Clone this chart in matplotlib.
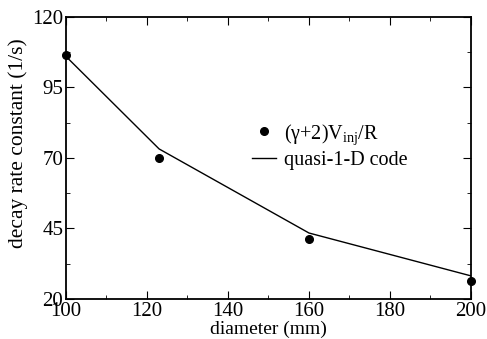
import matplotlib
matplotlib.use("Agg")
import matplotlib.pyplot as plt
from matplotlib.ticker import FixedLocator, MultipleLocator

plt.rcParams['font.family'] = ['Liberation Serif', 'DejaVu Serif']
plt.rcParams['mathtext.fontset'] = 'custom'
plt.rcParams['mathtext.rm'] = 'Liberation Serif'

diam_pts = [100, 123, 160, 200]
rate_pts = [106.5, 70.0, 41.3, 26.4]
diam_line = [100, 123, 160, 200]
rate_line = [106.0, 73.2, 43.4, 28.2]
y_ticks = [20, 45, 70, 95, 120]
y_minor = [32.5, 57.5, 82.5, 107.5]

fig = plt.figure(figsize=(4.87, 3.39), dpi=100)
ax = fig.add_axes([0.1355, 0.118, 0.967 - 0.1355, 0.95 - 0.118])

ax.plot(diam_pts, rate_pts, 'o', color='black', markersize=5.5, clip_on=False,
        label='(γ+2)V$_{\\rm inj}$/R', zorder=3)
ax.plot(diam_line, rate_line, '-', color='black', linewidth=1.0, label='quasi-1-D code')

ax.set_xlim(100, 200)
ax.set_ylim(20, 120)
ax.xaxis.set_major_locator(MultipleLocator(20))
ax.xaxis.set_minor_locator(MultipleLocator(10))
ax.yaxis.set_major_locator(FixedLocator(y_ticks))
ax.yaxis.set_minor_locator(FixedLocator(y_minor))
ax.tick_params(which='both', direction='in', top=True, right=True, labelsize=15, pad=2)
ax.tick_params(which='major', length=6)
ax.tick_params(which='minor', length=3)
for s in ax.spines.values():
    s.set_linewidth(1.3)

ax.set_xlabel('diameter (mm)', fontsize=14, labelpad=0)
ax.set_ylabel('decay rate constant (1/s)', fontsize=15.5)
ax.yaxis.set_label_coords(-0.095, 0.553)

ax.legend(loc='center left', bbox_to_anchor=(0.455, 0.543), frameon=False, fontsize=14.5,
          handlelength=1.2, handletextpad=0.4, labelspacing=0.2, borderpad=0.1,
          borderaxespad=0.0)

fig.savefig('out.png', dpi=100)
